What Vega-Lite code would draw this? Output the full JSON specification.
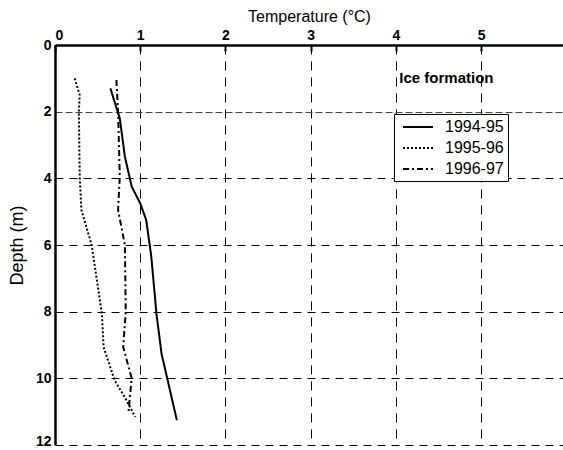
{
  "$schema": "https://vega.github.io/schema/vega-lite/v6.json",
  "autosize": {"type": "none"},
  "padding": {"left": 55, "top": 45, "right": 0, "bottom": 5},
  "width": 508,
  "height": 400,
  "background": "white",
  "config": {
    "view": {"stroke": null},
    "font": "Liberation Sans"
  },
  "datasets": {
    "profiles": [
      {"series": "1994-95", "T": 0.65, "depth": 1.3},
      {"series": "1994-95", "T": 0.76, "depth": 2.2},
      {"series": "1994-95", "T": 0.82, "depth": 3.35},
      {"series": "1994-95", "T": 0.90, "depth": 4.25},
      {"series": "1994-95", "T": 1.0, "depth": 4.75},
      {"series": "1994-95", "T": 1.07, "depth": 5.25},
      {"series": "1994-95", "T": 1.13, "depth": 6.35},
      {"series": "1994-95", "T": 1.16, "depth": 7.2},
      {"series": "1994-95", "T": 1.19, "depth": 8.06},
      {"series": "1994-95", "T": 1.25, "depth": 9.26},
      {"series": "1994-95", "T": 1.43, "depth": 11.26},
      {"series": "1995-96", "T": 0.23, "depth": 1.0},
      {"series": "1995-96", "T": 0.29, "depth": 1.5},
      {"series": "1995-96", "T": 0.28, "depth": 2.0},
      {"series": "1995-96", "T": 0.29, "depth": 3.95},
      {"series": "1995-96", "T": 0.31, "depth": 4.95},
      {"series": "1995-96", "T": 0.43, "depth": 6.0},
      {"series": "1995-96", "T": 0.55, "depth": 8.06},
      {"series": "1995-96", "T": 0.57, "depth": 9.06},
      {"series": "1995-96", "T": 0.70, "depth": 10.06},
      {"series": "1995-96", "T": 0.84, "depth": 10.66},
      {"series": "1995-96", "T": 0.94, "depth": 11.16},
      {"series": "1996-97", "T": 0.72, "depth": 1.05},
      {"series": "1996-97", "T": 0.74, "depth": 2.0},
      {"series": "1996-97", "T": 0.76, "depth": 3.95},
      {"series": "1996-97", "T": 0.74, "depth": 4.95},
      {"series": "1996-97", "T": 0.82, "depth": 6.0},
      {"series": "1996-97", "T": 0.83, "depth": 8.0},
      {"series": "1996-97", "T": 0.80, "depth": 9.06},
      {"series": "1996-97", "T": 0.90, "depth": 10.0},
      {"series": "1996-97", "T": 0.86, "depth": 11.06}
    ],
    "notes": [
      {"T": 4.04, "depth": 1.0, "label": "Ice formation"}
    ]
  },
  "layer": [
    {
      "data": {"name": "profiles"},
      "mark": {"type": "line", "color": "black", "strokeWidth": 2, "clip": true},
      "encoding": {
        "x": {
          "field": "T", "type": "quantitative",
          "scale": {"domain": [0, 5.96], "nice": false, "zero": false},
          "axis": {
            "orient": "top",
            "title": "Temperature (°C)",
            "titleFontSize": 16,
            "titleFontWeight": "normal",
            "titlePadding": 4,
            "titleColor": "black",
            "values": [0, 1, 2, 3, 4, 5],
            "format": "d",
            "labelFontSize": 14,
            "labelFontWeight": "bold",
            "labelColor": "black",
            "labelFlush": true,
            "labelPadding": 9,
            "tickSize": -6,
            "tickColor": "black",
            "tickWidth": 2,
            "domainColor": "black",
            "domainWidth": 2.5,
            "grid": true,
            "gridColor": "black",
            "gridDash": [9, 7],
            "gridWidth": 1,
            "gridOpacity": 1
          }
        },
        "y": {
          "field": "depth", "type": "quantitative",
          "scale": {"domain": [0, 12], "reverse": true, "nice": false},
          "axis": {
            "title": "Depth (m)",
            "titleFontSize": 18,
            "titleFontWeight": "normal",
            "titleColor": "black",
            "titlePadding": 9,
            "values": [0, 2, 4, 6, 8, 10, 12],
            "labelFontSize": 14,
            "labelFontWeight": "bold",
            "labelColor": "black",
            "labelPadding": 4,
            "labelBaseline": {"condition": {"test": "datum.value === 12", "value": "alphabetic"}, "value": "middle"},
            "ticks": false,
            "domainColor": "black",
            "domainWidth": 2.5,
            "grid": true,
            "gridColor": {"condition": {"test": "datum.value === 2", "value": "#444444"}, "value": "black"},
            "gridDash": {"condition": {"test": "datum.value === 2", "value": [7, 3]}, "value": [8, 6]},
            "gridWidth": 1,
            "gridOpacity": 1
          }
        },
        "order": {"field": "depth", "type": "quantitative"},
        "strokeDash": {
          "field": "series", "type": "nominal",
          "scale": {"domain": ["1994-95", "1995-96", "1996-97"], "range": [[1, 0], [2, 2], [6, 3, 2, 3]]},
          "legend": {
            "title": null,
            "orient": "none",
            "legendX": 339,
            "legendY": 69,
            "fillColor": "white",
            "strokeColor": "black",
            "padding": 4,
            "labelFontSize": 16,
            "labelColor": "black",
            "labelOffset": 18,
            "labelExpr": "datum.label + '   '",
            "rowPadding": 4,
            "symbolOffset": 11,
            "symbolType": "M-1.875,0L1.875,0",
            "symbolSize": 256,
            "symbolStrokeWidth": 2,
            "symbolStrokeColor": "black",
            "symbolFillColor": "transparent"
          }
        }
      }
    },
    {
      "data": {"name": "notes"},
      "mark": {"type": "text", "align": "left", "baseline": "middle", "fontSize": 15, "fontWeight": "bold", "color": "black"},
      "encoding": {
        "x": {"field": "T", "type": "quantitative"},
        "y": {"field": "depth", "type": "quantitative"},
        "text": {"field": "label"}
      }
    }
  ]
}
